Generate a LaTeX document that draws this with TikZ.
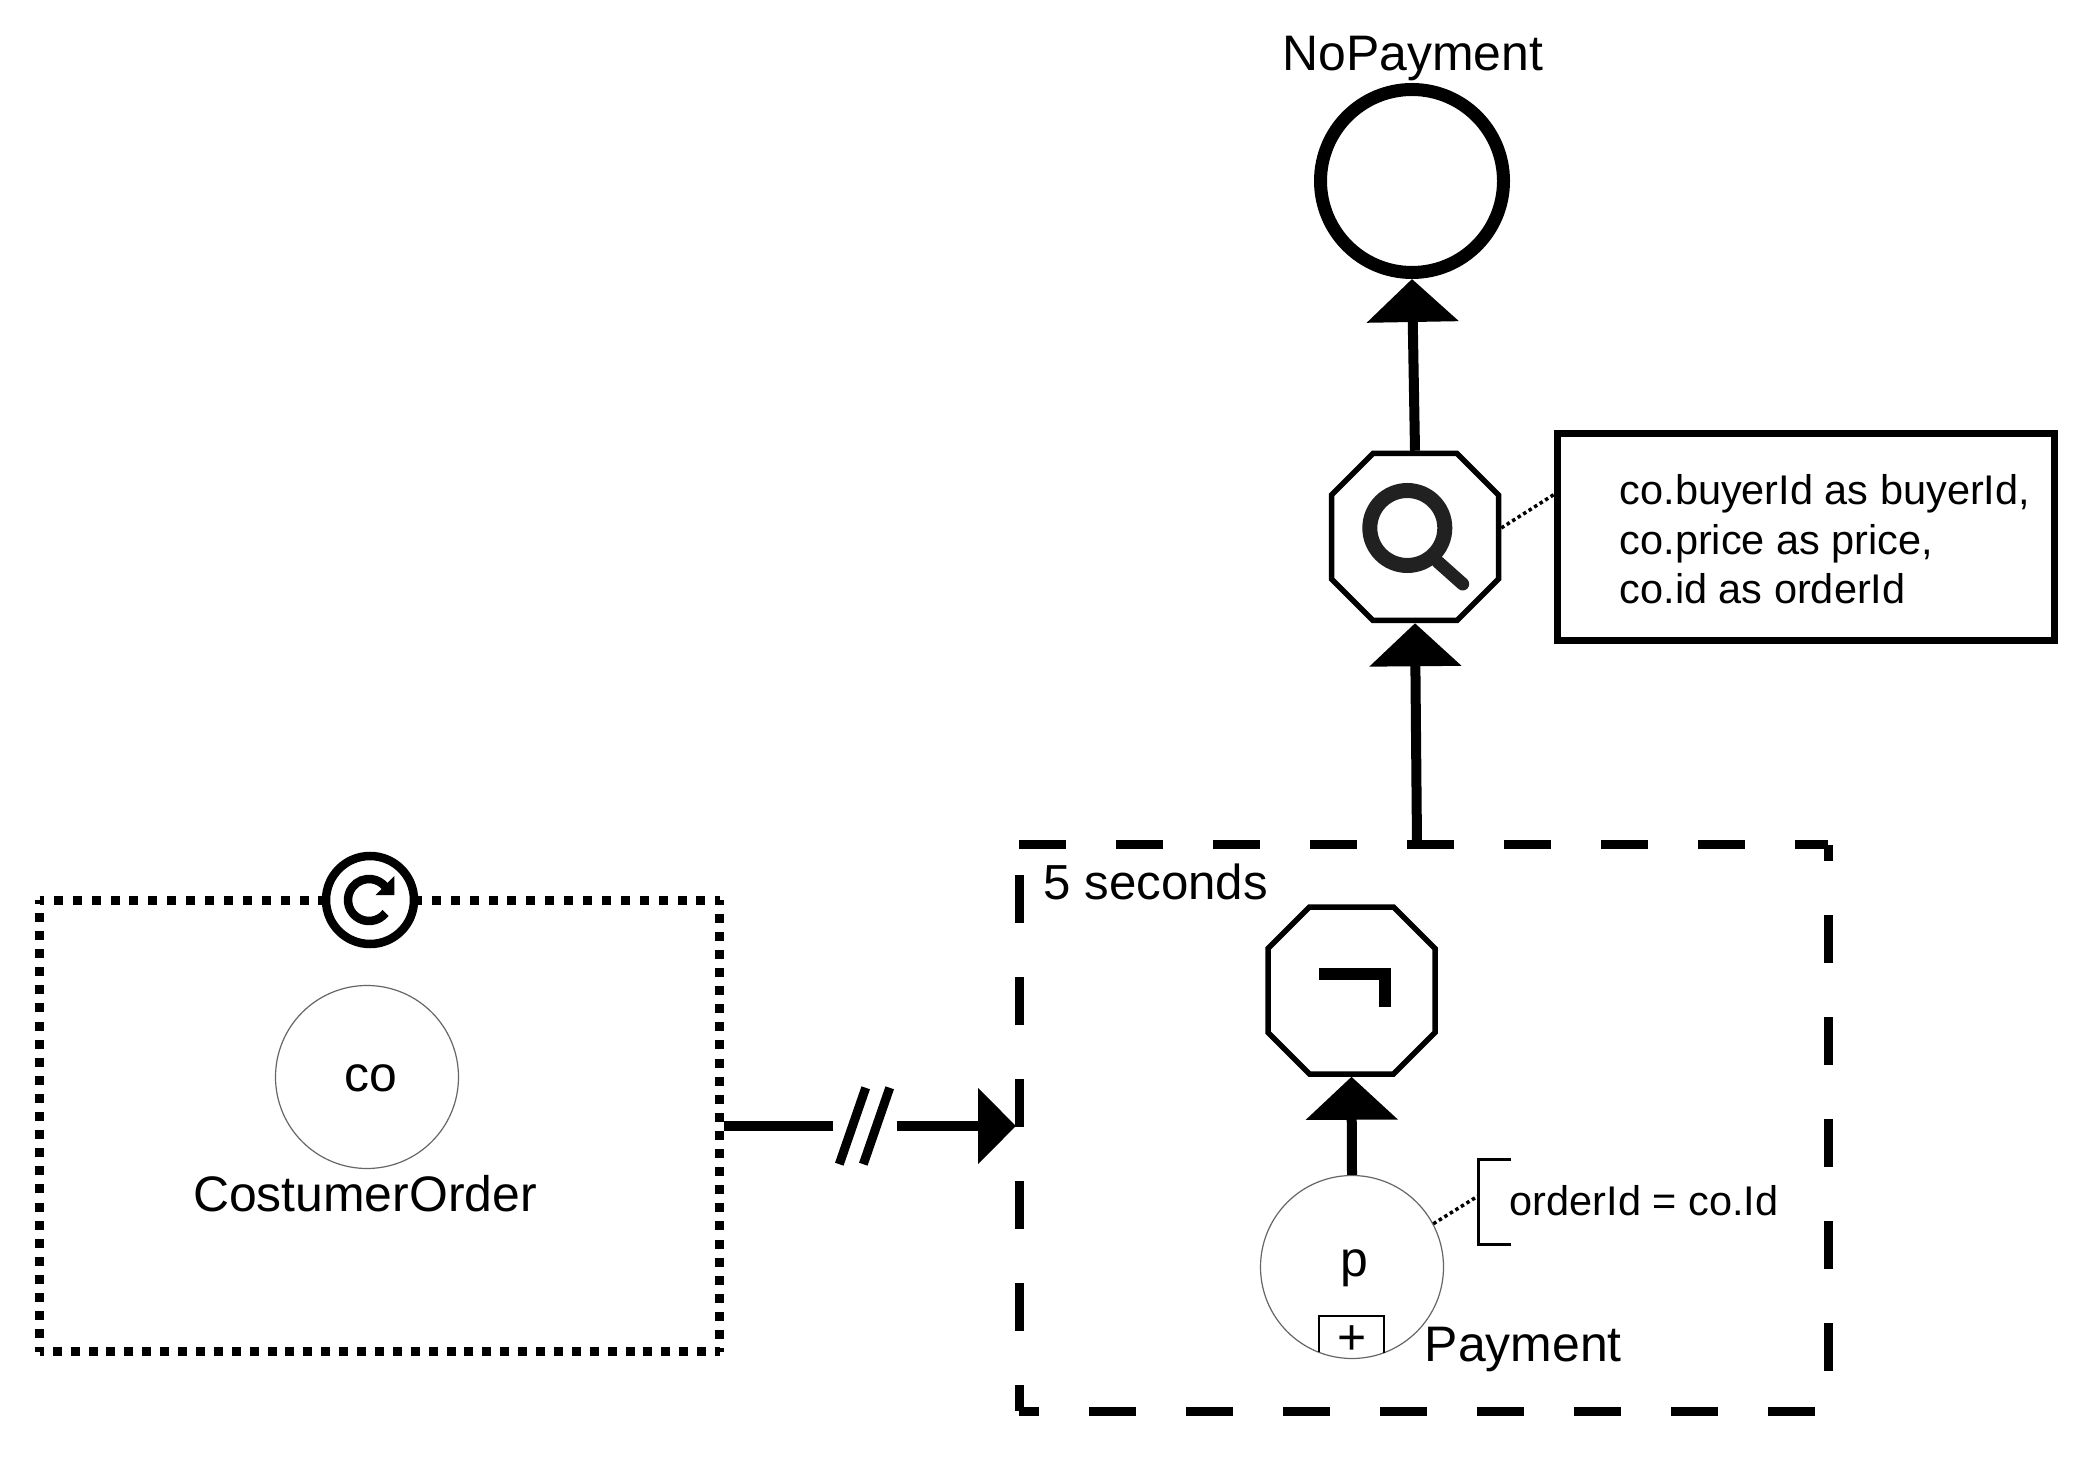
\documentclass[tikz,border=0pt]{standalone}
\usepackage{fontspec}
\setmainfont{Liberation Sans}
\usetikzlibrary{
    arrows.meta
}
\colorlet{iconcolor}{black!87}
\colorlet{thinlinecolor}{black!60}
\tikzset{
    % Arrows
    flow tip/.tip={Triangle[length=.43cm,width=.9cm]},
    hold tip/.tip={Triangle[length=.38cm,width=.74cm]},
    flow/.style={->,>={flow tip},line width=.1cm},
    holdflow/.style={line width=.1cm},
    notelink/.style={line width=.035cm,dash pattern=on .035cm off .03cm},
    %
    % Nodes
    event/.style={circle,draw=thinlinecolor,line width=.012cm,minimum size=1.83cm,inner sep=0pt},
    eventout/.style={circle,draw,line width=.13cm,minimum size=1.83cm,inner sep=0pt},
    operator/.style={rectangle,minimum size=1.67cm,inner sep=0pt,outer sep=.0275cm},
    recurbadge/.style={circle,draw,fill=white,line width=.085cm,minimum size=.88cm,inner sep=0pt},
    framebox/.style={rectangle,inner sep=0pt,outer sep=0pt},
    dots/.style={line width=.09cm,dash pattern=on .09cm off #1,dash phase=.045cm},
    longdash/.style={line width=.09cm},
    notebox/.style={rectangle,draw,line width=.07cm,minimum width=4.97cm,minimum height=2.07cm},
    %
    % Text
    bigtext/.style={font=\fontsize{14.2}{17}\selectfont,inner sep=0pt},
    smalltext/.style={font=\fontsize{11.8}{14.1}\selectfont,inner sep=0pt}
}
% octagon around an operator node
\newcommand{\octagon}[1]{
    \draw[line width=.055cm,shift={(#1.center)}] (-.42,.835) -- (.42,.835) -- (.835,.42) -- (.835,-.42) -- (.42,-.835) -- (-.42,-.835) -- (-.835,-.42) -- (-.835,.42) -- cycle;
}

\begin{document}
\begin{tikzpicture}
    \useasboundingbox[fill=white] (0,0) rectangle (20.96,14.60);

    % Iterated source
    \node[framebox,minimum width=6.80cm,minimum height=4.517cm] (orderbox) at (3.795,3.34) {};
    \draw[dots=.099cm] (orderbox.north west) -- (orderbox.north east);
    \draw[dots=.091cm] (orderbox.north east) -- (orderbox.south east);
    \draw[dots=.089cm] (orderbox.south east) -- (orderbox.south west);
    \draw[dots=.091cm] (orderbox.south west) -- (orderbox.north west);
    \node[recurbadge] (recur) at (3.70,5.60) {};
    \begin{scope}[shift={(recur.center)}]
        \draw[line width=.085cm] (-.01,0) ++(-38:.21) arc[start angle=-38,end angle=-320,radius=.21];
        \fill (.243,.24) -- (.243,.05) -- (.057,.05) -- cycle;
    \end{scope}
    \node[event] (co) at (3.67,3.83) {};
    \node[bigtext,anchor=base] (cotext) at (3.71,3.69) {co};
    \node[bigtext,anchor=base] (cotype) at (3.65,2.49) {CostumerOrder};

    % Time window
    \node[framebox,minimum width=8.09cm,minimum height=5.665cm] (timewin) at (14.235,3.3225) {};
    \draw[longdash,dash pattern=on .47cm off .50cm] (timewin.north west) -- (timewin.north east);
    \draw[longdash,dash pattern=on .48cm off .54cm,dash phase=.315cm] (timewin.north east) -- (timewin.south east);
    \draw[longdash,dash pattern=on .47cm off .50cm,dash phase=.84cm] (timewin.south east) -- (timewin.south west);
    \draw[longdash,dash pattern=on .48cm off .54cm,dash phase=.22cm] (timewin.south west) -- (timewin.north west);
    \node[bigtext,font=\fontsize{14}{17}\selectfont,anchor=base west] (timetext) at (10.43,5.605) {5 seconds};

    % Hold marker between source and window
    \node[inner sep=0pt,minimum width=.62cm,minimum height=.75cm] (hold) at (8.65,3.34) {};
    \draw[holdflow] ([xshift=.045cm]orderbox.east |- hold) -- (hold.west);
    \draw[holdflow,->,>={hold tip}] (hold.east) -- ([xshift=-.03cm]timewin.west |- hold);
    \draw[line width=.09cm] ([xshift=.06cm]hold.south west) -- ([xshift=-.31cm]hold.north east);
    \draw[line width=.09cm] ([xshift=.30cm]hold.south west) -- ([xshift=-.07cm]hold.north east);

    % Negated payment
    \node[operator] (neg) at (13.515,4.695) {};
    \octagon{neg}
    \draw[line width=.125cm,shift={(neg.center)}] (-.325,.165) -- (.335,.165) -- (.335,-.165);
    \node[event] (pay) at (13.52,1.93) {};
    \node[bigtext,anchor=base] (paytext) at (13.545,1.84) {p};
    \node[bigtext] (plus) at (13.52,1.20) {+};
    \draw[line width=.015cm] (13.19,1.08) -- (13.19,1.44) -- (13.84,1.44) -- (13.84,1.07);
    \node[bigtext,anchor=base west] (paytype) at (14.24,.99) {Payment};
    \draw[flow] (pay.north) -- (neg.south);

    % Filter on payment
    \node[smalltext,anchor=base west] (filtertext) at (15.09,2.447) {orderId = co.Id};
    \draw[line width=.03cm] (15.11,3.01) -- (14.78,3.01) -- (14.78,2.16) -- (15.11,2.16);
    \coordinate (filterend) at (14.78,2.64);
    \draw[notelink] (pay.28) -- (filterend);

    % Projection
    \node[operator] (search) at (14.15,9.23) {};
    \octagon{search}
    \begin{scope}[shift={(search.center)}]
        \draw[iconcolor,line width=.15cm] (-.077,.09) circle (.375);
        \draw[iconcolor,line width=.13cm,line cap=round] (.23,-.25) -- (.477,-.47);
    \end{scope}
    \node[notebox] (viewbox) at (18.06,9.225) {};
    \node[smalltext,anchor=base west,align=left] (viewtext) at (16.19,8.56) {co.buyerId as buyerId,\\co.price as price,\\co.id as orderId};
    \draw[notelink] ([yshift=.09cm]search.east) -- ([yshift=.43cm]viewbox.west);

    % Output event
    \node[eventout] (nopay) at (14.12,12.79) {};
    \node[bigtext,anchor=base] (nopaytext) at (14.13,13.895) {NoPayment};
    \draw[flow] ([xshift=-.065cm]timewin.north) -- (search.south);
    \draw[flow] (search.north) -- (nopay.south);
\end{tikzpicture}
\end{document}
